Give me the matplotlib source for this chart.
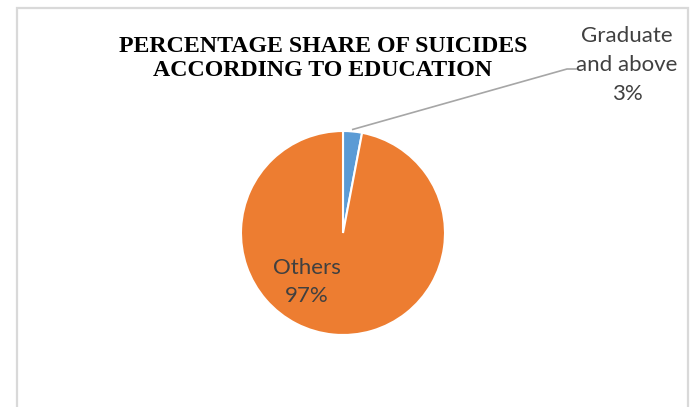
import numpy as np
import matplotlib.pyplot as plt
from matplotlib.patches import Rectangle

categories = ['Graduate\nand above', 'Others']
shares = [3, 97]
colors = ['#5b9bd5', '#ed7d31']

W, H = 691, 407
fig = plt.figure(figsize=(W / 100, H / 100), dpi=100)

# chart frame
fig.patches.append(Rectangle((17 / W, -0.05), 671 / W, 1.05 - 8 / H, transform=fig.transFigure,
                             fill=False, edgecolor='#d9d9d9', linewidth=1.6))

cx, cy, r = 343, 233, 102
ax = fig.add_axes([(cx - r) / W, (H - cy - r) / H, 2 * r / W, 2 * r / H])
wedges, _ = ax.pie(shares, colors=colors, startangle=90, counterclock=False, radius=1,
                   wedgeprops=dict(edgecolor='white', linewidth=1.5))
ax.set_xlim(-1, 1)
ax.set_ylim(-1, 1)
ax.axis('off')

fig.text(323 / W, 1 - 58.5 / H, 'PERCENTAGE SHARE OF SUICIDES\nACCORDING TO EDUCATION',
         ha='center', va='center', fontsize=17.2, fontweight='bold', family='Liberation Serif',
         linespacing=1.25)

lbl_font = dict(family='Lato', fontsize=16, color='#404040', ha='center', va='center')

# small slice label with leader line
w = wedges[0]
ang = np.deg2rad((w.theta1 + w.theta2) / 2)
x0, y0 = np.cos(ang), np.sin(ang)
p0 = ax.transData.transform((x0 * 1.02, y0 * 1.02))
p1 = (567, H - 69)
p2 = (576, H - 69)
fig.add_artist(plt.Line2D([p0[0] / W, p1[0] / W, p2[0] / W], [p0[1] / H, p1[1] / H, p2[1] / H],
                          transform=fig.transFigure, color='#a6a6a6', linewidth=1.2))
fig.text(627 / W, 1 - 65 / H, f'{categories[0]}\n{shares[0]}%', linespacing=1.57, **lbl_font)

# large slice label inside the pie
fig.text(307 / W, 1 - 282 / H, f'{categories[1]}\n{shares[1]}%', linespacing=1.5, **lbl_font)

fig.savefig('out.png', dpi=100)
